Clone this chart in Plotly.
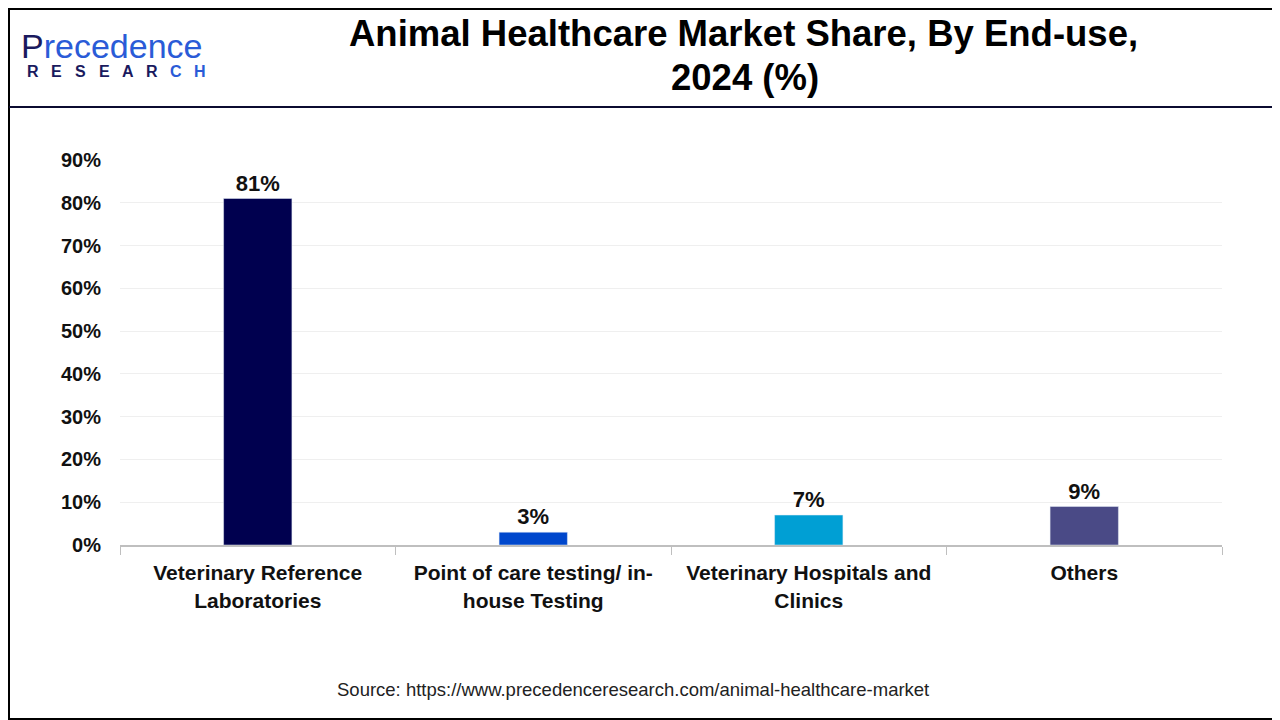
import plotly.graph_objects as go

categories = ["Veterinary Reference<br>Laboratories", "Point of care testing/ in-<br>house Testing",
              "Veterinary Hospitals and<br>Clinics", "Others"]
values = [81, 3, 7, 9]
labels = ["81%", "3%", "7%", "9%"]
colors = ["#00004f", "#0047cc", "#009fd4", "#4a4a86"]
yticks = [0, 10, 20, 30, 40, 50, 60, 70, 80, 90]
yticklabels = [f"{v}%" for v in yticks]
title_lines = ["Animal Healthcare Market Share, By End-use,", "2024 (%)"]
logo_letters = list("RESEARCH")

OFF = 8  # browser default body margin
W, H = 1280, 720
FW, FH = W - OFF, H - OFF
L, R, T, B = 120 - OFF, 58, 160 - OFF, 175
pw, ph = FW - L - R, FH - T - B

def px(x):
    return (x - OFF - L) / pw

def py(y):
    return (FH - B - (y - OFF)) / ph

FONT = "Arial, Liberation Sans"

fig = go.Figure(go.Bar(
    x=categories, y=values, text=labels, textposition="outside",
    marker_color=colors, width=0.248,
    texttemplate="<b>%{text}</b>",
    textfont=dict(family=FONT, size=22, color="#111111"),
    cliponaxis=False,
))

fig.update_layout(
    width=FW, height=FH, margin=dict(l=L, r=R, t=T, b=B),
    paper_bgcolor="white", plot_bgcolor="white", showlegend=False,
    font=dict(family=FONT, color="#111111"),
    xaxis=dict(showline=True, linecolor="#bfbfbf", linewidth=2, ticks="outside",
               tickson="boundaries", ticklen=8, tickcolor="#bfbfbf", tickwidth=1,
               tickvals=categories, ticktext=[f"<b>{c}</b>" for c in categories],
               tickfont=dict(size=21, color="#111111", family=FONT),
               ticklabelstandoff=8, showgrid=False),
    yaxis=dict(range=[0, 90], tickvals=yticks, ticktext=[f"<b>{t}</b>" for t in yticklabels],
               showgrid=True, gridcolor="#efefef", gridwidth=1, zeroline=False,
               tickfont=dict(size=20, color="#111111", family=FONT), ticks="",
               ticklabelstandoff=18),
)

shapes = [
    dict(type="rect", xref="paper", yref="paper", x0=px(OFF + 1), x1=px(W - 1), y0=py(OFF + 1), y1=py(H - 1),
         line=dict(color="#000000", width=2), fillcolor="rgba(0,0,0,0)", layer="above"),
    dict(type="line", xref="paper", yref="paper", x0=px(OFF + 1), x1=px(W - 1), y0=py(107), y1=py(107),
         line=dict(color="#0b0b30", width=2)),
]
fig.update_layout(shapes=shapes)

annotations = [
    dict(text=f"<b>{title_lines[0]}</b>",
         x=px(743), y=py(34), xref="paper", yref="paper", xanchor="center", yanchor="middle",
         showarrow=False, font=dict(size=36.5, color="#000000", family=FONT)),
    dict(text=f"<b>{title_lines[1]}</b>",
         x=px(745), y=py(78), xref="paper", yref="paper", xanchor="center", yanchor="middle",
         showarrow=False, font=dict(size=36.5, color="#000000", family=FONT)),
    dict(text="<span style='color:#1a1a5e'>P</span><span style='color:#2a5bd7'>recedence</span>",
         x=px(19), y=py(46), xref="paper", yref="paper", xanchor="left", yanchor="middle",
         showarrow=False, font=dict(size=34, family=FONT)),
    dict(text="Source: https://www.precedenceresearch.com/animal-healthcare-market",
         x=px(633), y=py(689), xref="paper", yref="paper", xanchor="center", yanchor="middle",
         showarrow=False, font=dict(size=18.5, color="#222222", family=FONT)),
]
for i, ch in enumerate(logo_letters):
    color = "#1a1a5e" if i < 6 else "#2a5bd7"
    annotations.append(dict(text=f"<b>{ch}</b>", x=px(33 + i * 23.8), y=py(71), xref="paper", yref="paper",
                            xanchor="center", yanchor="middle", showarrow=False,
                            font=dict(size=16, color=color, family=FONT)))
fig.update_layout(annotations=annotations)

fig.write_html("out.html")
